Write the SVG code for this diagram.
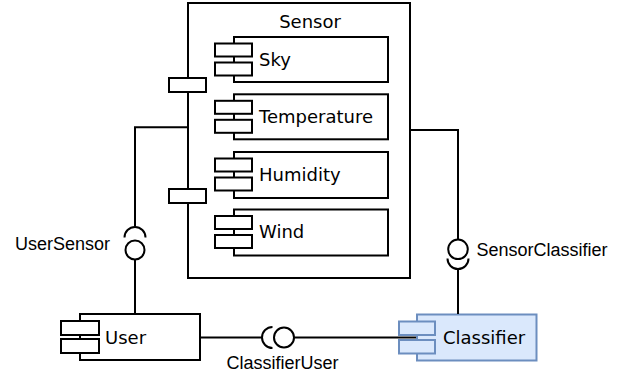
<svg xmlns="http://www.w3.org/2000/svg" width="624" height="378" viewBox="0 0 624 378">
<style>
.b{fill:#fff;stroke:#000;stroke-width:2}
.c{fill:none;stroke:#000;stroke-width:2}
.bl{fill:#dae8fc;stroke:#6c8ebf;stroke-width:2}
.t{font-family:"DejaVu Sans",sans-serif;font-size:18px;fill:#000}
.s{font-family:"Liberation Sans",Arial,sans-serif;font-size:18px;fill:#000}
</style>
<rect width="624" height="378" fill="#fff"/>
<g id="Sensor">
<rect class="b" x="188" y="3" width="222" height="275"/>
<text class="t" x="310" y="28" text-anchor="middle">Sensor</text>
<rect class="b" x="169" y="78" width="37" height="14"/>
<rect class="b" x="169" y="189" width="37" height="14"/>
</g>
<g id="Sky">
<rect class="b" x="234" y="37" width="154" height="45"/>
<rect class="b" x="215" y="43.5" width="37" height="13"/>
<rect class="b" x="215" y="62.5" width="37" height="13"/>
<text class="t" x="259" y="65.5">Sky</text>
</g>
<g id="Temperature">
<rect class="b" x="234" y="94.3" width="154" height="45"/>
<rect class="b" x="215" y="100.8" width="37" height="13"/>
<rect class="b" x="215" y="119.8" width="37" height="13"/>
<text class="t" x="259" y="122.8">Temperature</text>
</g>
<g id="Humidity">
<rect class="b" x="234" y="152" width="154" height="46"/>
<rect class="b" x="215" y="158.5" width="37" height="13"/>
<rect class="b" x="215" y="177.5" width="37" height="13"/>
<text class="t" x="259" y="180.5">Humidity</text>
</g>
<g id="Wind">
<rect class="b" x="234" y="209.5" width="154" height="46"/>
<rect class="b" x="215" y="216" width="37" height="13"/>
<rect class="b" x="215" y="235" width="37" height="13"/>
<text class="t" x="259" y="238">Wind</text>
</g>
<g id="User">
<rect class="b" x="80" y="314" width="120" height="46"/>
<rect class="b" x="61" y="321" width="38" height="14"/>
<rect class="b" x="61" y="339" width="38" height="14"/>
<text class="t" x="105" y="343.5">User</text>
</g>
<g id="Classifier">
<rect class="bl" x="417" y="314.5" width="119.5" height="46"/>
<rect class="bl" x="399" y="321.5" width="36" height="13.5"/>
<rect class="bl" x="399" y="340" width="36" height="13.5"/>
<text class="t" x="443" y="344">Classifier</text>
</g>
<g id="connectors">
<path class="c" d="M188 127.3H135V226.5"/>
<path class="c" d="M124.5 237.5A10.5 10.5 0 0 1 145.5 237.5"/>
<circle class="c" cx="135" cy="250" r="9.5"/>
<path class="c" d="M135 259.5V314"/>
<text class="s" x="15" y="249.5">UserSensor</text>
<path class="c" d="M410 130H458V239.5"/>
<circle class="c" cx="458" cy="249.3" r="9.8"/>
<path class="c" d="M447.5 258.5A10.5 10.5 0 0 0 468.5 258.5"/>
<path class="c" d="M458 268.5V314"/>
<text class="s" x="476.5" y="255.5">SensorClassifier</text>
<path class="c" d="M200 337.5H262"/>
<path class="c" d="M272.5 327A10.5 10.5 0 0 0 272.5 348"/>
<circle class="c" cx="284" cy="337.5" r="10"/>
<path class="c" d="M294 337.5H416"/>
<text class="s" x="226.5" y="368.5">ClassifierUser</text>
</g>
</svg>
